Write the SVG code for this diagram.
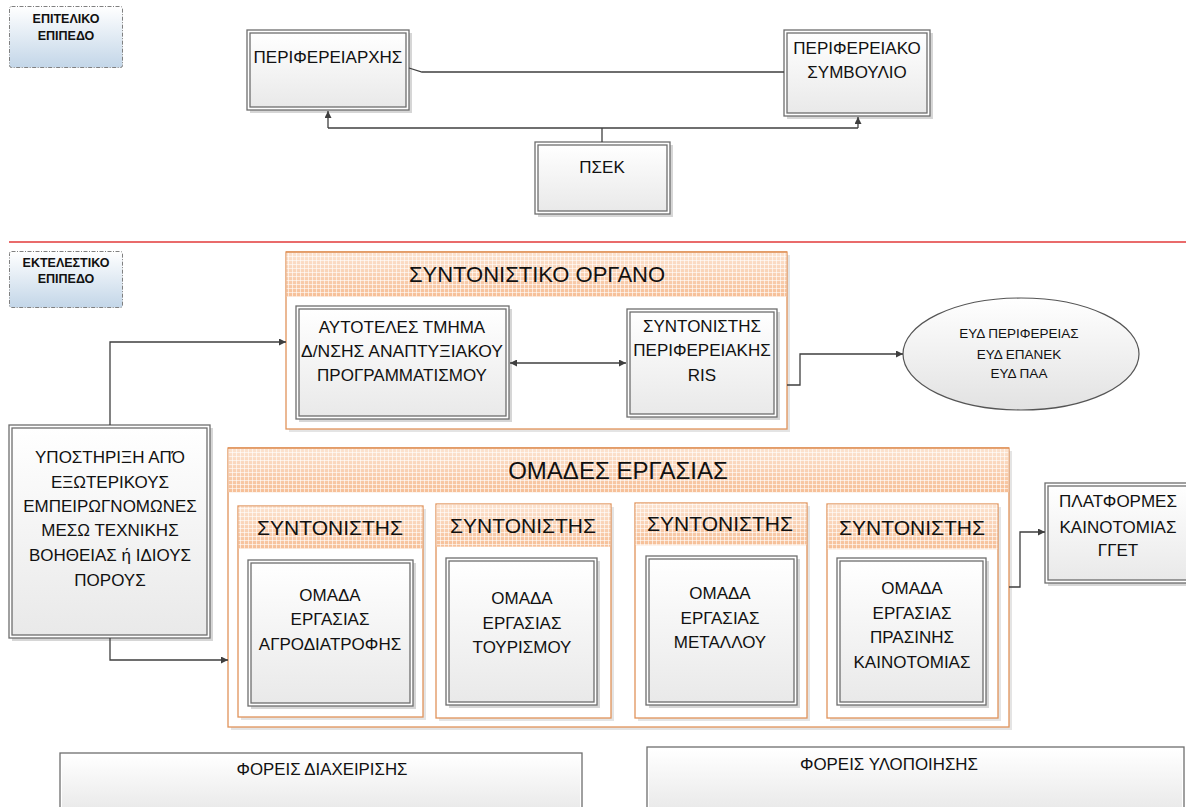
<svg xmlns="http://www.w3.org/2000/svg" width="1186" height="807" viewBox="0 0 1186 807">
<style>
text{font-family:"Liberation Sans",Arial,sans-serif;fill:#111;text-anchor:middle}
.t16{font-size:17px}
.t13{font-size:13.5px}
.hd{font-size:21px}
.lbl{font-size:12.5px;font-weight:bold}
.sh{fill:#d6d6d6}
.outer{fill:#fff;stroke:#6e6e6e;stroke-width:1.3}
.inner{fill:url(#boxg);stroke:#6e6e6e;stroke-width:1.3}
.cont{fill:#fff;stroke:#e0935a;stroke-width:1.3}
.head{fill:url(#headg)}
.grid{fill:url(#gridp)}
.conn{fill:none;stroke:#3f3f3f;stroke-width:1.3}
.lab{fill:url(#labg);stroke:#808080;stroke-width:1;stroke-dasharray:4 1.5 1 1.5}
</style>
<defs>
<linearGradient id="boxg" x1="0" y1="0" x2="0" y2="1"><stop offset="0" stop-color="#ffffff"/><stop offset="1" stop-color="#e9e9e9"/></linearGradient>
<linearGradient id="labg" x1="0" y1="0" x2="0" y2="1"><stop offset="0" stop-color="#ffffff"/><stop offset="1" stop-color="#c3d6e8"/></linearGradient>
<linearGradient id="headg" x1="0" y1="0" x2="0" y2="1"><stop offset="0" stop-color="#fce3d0"/><stop offset="1" stop-color="#f6bf97"/></linearGradient>
<linearGradient id="ellg" x1="0" y1="0" x2="0" y2="1"><stop offset="0" stop-color="#ffffff"/><stop offset="1" stop-color="#e2e2e2"/></linearGradient>
<pattern id="gridp" width="4" height="4" patternUnits="userSpaceOnUse"><path d="M0,0.5H4M0.5,0V4" stroke="#ffffff" stroke-opacity="0.6" stroke-width="1" fill="none"/></pattern>
<marker id="arr" viewBox="0 0 10 10" refX="10" refY="5" markerWidth="7" markerHeight="7" orient="auto-start-reverse" markerUnits="userSpaceOnUse"><path d="M0,0L10,5L0,10z" fill="#3f3f3f"/></marker>
</defs>

<line x1="9" y1="242" x2="1186" y2="242" stroke="#e23a3a" stroke-width="1.3"/>

<g id="label-epiteliko">
<rect class="lab" x="9.5" y="6.5" width="113" height="61" rx="2"/>
<text class="lbl" x="66" y="23">ΕΠΙΤΕΛΙΚΟ</text>
<text class="lbl" x="66" y="40">ΕΠΙΠΕΔΟ</text>
</g>
<g id="label-ektelestiko">
<rect class="lab" x="9.5" y="251.5" width="113" height="56" rx="2"/>
<text class="lbl" x="66" y="267">ΕΚΤΕΛΕΣΤΙΚΟ</text>
<text class="lbl" x="66" y="283">ΕΠΙΠΕΔΟ</text>
</g>

<g id="perifereiarxis">
<rect class="sh" x="250" y="33" width="162" height="80"/>
<rect class="outer" x="247" y="30" width="162" height="80"/>
<rect class="inner" x="250" y="33" width="156" height="74"/>
<text class="t16" x="328" y="63">ΠΕΡΙΦΕΡΕΙΑΡΧΗΣ</text>
</g>
<g id="perifereiako-symvoulio">
<rect class="sh" x="787" y="33" width="146" height="86"/>
<rect class="outer" x="784" y="30" width="146" height="86"/>
<rect class="inner" x="787" y="33" width="140" height="80"/>
<text class="t16" x="857" y="54">ΠΕΡΙΦΕΡΕΙΑΚΟ</text>
<text class="t16" x="857" y="78">ΣΥΜΒΟΥΛΙΟ</text>
</g>
<g id="psek">
<rect class="sh" x="538" y="145" width="135" height="72"/>
<rect class="outer" x="535" y="142" width="135" height="72"/>
<rect class="inner" x="538" y="145" width="129" height="66"/>
<text class="t16" x="602" y="173">ΠΣΕΚ</text>
</g>

<g id="syntonistiko-organo">
<rect x="289" y="255" width="501" height="177" fill="#e4e4e4"/>
<rect class="cont" x="286" y="252" width="501" height="177"/>
<rect class="head" x="286.7" y="252.7" width="499.6" height="44"/>
<rect class="grid" x="286.7" y="252.7" width="499.6" height="44"/>
<line x1="286" y1="252" x2="787" y2="252" stroke="#e0935a" stroke-width="1.3"/>
<text class="hd" x="537" y="282" style="font-size:22px">ΣΥΝΤΟΝΙΣΤΙΚΟ ΟΡΓΑΝΟ</text>
</g>
<g id="aftoteles-tmima">
<rect class="sh" x="299" y="309" width="213" height="113"/>
<rect class="outer" x="296" y="306" width="213" height="113"/>
<rect class="inner" x="299" y="309" width="207" height="107"/>
<text class="t16" x="402" y="333">ΑΥΤΟΤΕΛΕΣ ΤΜΗΜΑ</text>
<text class="t16" x="402" y="357" textLength="202" lengthAdjust="spacingAndGlyphs">Δ/ΝΣΗΣ ΑΝΑΠΤΥΞΙΑΚΟΥ</text>
<text class="t16" x="402" y="381">ΠΡΟΓΡΑΜΜΑΤΙΣΜΟΥ</text>
</g>
<g id="syntonistis-ris">
<rect class="sh" x="630" y="312" width="150" height="108"/>
<rect class="outer" x="627" y="309" width="150" height="108"/>
<rect class="inner" x="630" y="312" width="144" height="102"/>
<text class="t16" x="702" y="332">ΣΥΝΤΟΝΙΣΤΗΣ</text>
<text class="t16" x="702" y="356">ΠΕΡΙΦΕΡΕΙΑΚΗΣ</text>
<text class="t16" x="702" y="381">RIS</text>
</g>
<g id="eyd">
<ellipse cx="1021" cy="354" rx="118" ry="56" fill="url(#ellg)" stroke="#555" stroke-width="1.2"/>
<text class="t13" x="1019" y="338">ΕΥΔ ΠΕΡΙΦΕΡΕΙΑΣ</text>
<text class="t13" x="1019" y="359">ΕΥΔ ΕΠΑΝΕΚ</text>
<text class="t13" x="1019" y="378">ΕΥΔ ΠΑΑ</text>
</g>

<g id="ypostiriksi">
<rect class="sh" x="12" y="428" width="201" height="213"/>
<rect class="outer" x="9" y="425" width="201" height="213"/>
<rect class="inner" x="12" y="428" width="195" height="207"/>
<text class="t16" x="110" y="463">ΥΠΟΣΤΗΡΙΞΗ ΑΠΌ</text>
<text class="t16" x="110" y="488">ΕΞΩΤΕΡΙΚΟΥΣ</text>
<text class="t16" x="110" y="512">ΕΜΠΕΙΡΩΓΝΟΜΩΝΕΣ</text>
<text class="t16" x="110" y="536">ΜΕΣΩ ΤΕΧΝΙΚΗΣ</text>
<text class="t16" x="110" y="561">ΒΟΗΘΕΙΑΣ ή ΙΔΙΟΥΣ</text>
<text class="t16" x="110" y="586">ΠΟΡΟΥΣ</text>
</g>

<g id="omades-ergasias">
<rect x="231" y="451" width="781" height="279" fill="#e4e4e4"/>
<rect class="cont" x="228" y="448" width="781" height="279"/>
<rect class="head" x="228.7" y="448.7" width="779.6" height="43.5"/>
<rect class="grid" x="228.7" y="448.7" width="779.6" height="43.5"/>
<line x1="228" y1="448" x2="1009" y2="448" stroke="#e0935a" stroke-width="1.3"/>
<text class="hd" x="618" y="479" style="font-size:24px">ΟΜΑΔΕΣ ΕΡΓΑΣΙΑΣ</text>
</g>

<g id="syntonistis-1">
<rect x="241" y="509" width="185" height="211" fill="#e4e4e4"/>
<rect class="cont" x="238" y="506" width="185" height="211"/>
<rect class="head" x="238.7" y="506.7" width="183.6" height="42"/>
<rect class="grid" x="238.7" y="506.7" width="183.6" height="42"/>
<text class="hd" x="330" y="535">ΣΥΝΤΟΝΙΣΤΗΣ</text>
</g>
<g id="omada-agrodiatrofis">
<rect class="sh" x="251" y="563" width="165" height="146"/>
<rect class="outer" x="248" y="560" width="165" height="146"/>
<rect class="inner" x="251" y="563" width="159" height="140"/>
<text class="t16" x="330" y="601">ΟΜΑΔΑ</text>
<text class="t16" x="330" y="625">ΕΡΓΑΣΙΑΣ</text>
<text class="t16" x="330" y="650">ΑΓΡΟΔΙΑΤΡΟΦΗΣ</text>
</g>

<g id="syntonistis-2">
<rect x="439" y="507" width="175" height="214" fill="#e4e4e4"/>
<rect class="cont" x="436" y="504" width="175" height="214"/>
<rect class="head" x="436.7" y="504.7" width="173.6" height="42"/>
<rect class="grid" x="436.7" y="504.7" width="173.6" height="42"/>
<text class="hd" x="523" y="533">ΣΥΝΤΟΝΙΣΤΗΣ</text>
</g>
<g id="omada-tourismou">
<rect class="sh" x="449" y="561" width="151" height="147"/>
<rect class="outer" x="446" y="558" width="151" height="147"/>
<rect class="inner" x="449" y="561" width="145" height="141"/>
<text class="t16" x="522" y="604">ΟΜΑΔΑ</text>
<text class="t16" x="522" y="629">ΕΡΓΑΣΙΑΣ</text>
<text class="t16" x="522" y="653">ΤΟΥΡΙΣΜΟΥ</text>
</g>

<g id="syntonistis-3">
<rect x="638" y="506" width="172" height="215" fill="#e4e4e4"/>
<rect class="cont" x="635" y="503" width="172" height="215"/>
<rect class="head" x="635.7" y="503.7" width="170.6" height="41.5"/>
<rect class="grid" x="635.7" y="503.7" width="170.6" height="41.5"/>
<text class="hd" x="720" y="531">ΣΥΝΤΟΝΙΣΤΗΣ</text>
</g>
<g id="omada-metallou">
<rect class="sh" x="649" y="559" width="151" height="149"/>
<rect class="outer" x="646" y="556" width="151" height="149"/>
<rect class="inner" x="649" y="559" width="145" height="143"/>
<text class="t16" x="720" y="599">ΟΜΑΔΑ</text>
<text class="t16" x="720" y="624">ΕΡΓΑΣΙΑΣ</text>
<text class="t16" x="720" y="648">ΜΕΤΑΛΛΟΥ</text>
</g>

<g id="syntonistis-4">
<rect x="830" y="507" width="171" height="214" fill="#e4e4e4"/>
<rect class="cont" x="827" y="504" width="171" height="214"/>
<rect class="head" x="827.7" y="504.7" width="169.6" height="44.5"/>
<rect class="grid" x="827.7" y="504.7" width="169.6" height="44.5"/>
<text class="hd" x="912" y="535">ΣΥΝΤΟΝΙΣΤΗΣ</text>
</g>
<g id="omada-prasinis-kainotomias">
<rect class="sh" x="840" y="561" width="149" height="147"/>
<rect class="outer" x="837" y="558" width="149" height="147"/>
<rect class="inner" x="840" y="561" width="143" height="141"/>
<text class="t16" x="912" y="594">ΟΜΑΔΑ</text>
<text class="t16" x="912" y="619">ΕΡΓΑΣΙΑΣ</text>
<text class="t16" x="912" y="643">ΠΡΑΣΙΝΗΣ</text>
<text class="t16" x="912" y="668">ΚΑΙΝΟΤΟΜΙΑΣ</text>
</g>

<g id="platformes">
<rect class="sh" x="1048" y="486" width="150" height="100"/>
<rect class="outer" x="1045" y="483" width="150" height="100"/>
<rect class="inner" x="1048" y="486" width="144" height="94"/>
<text class="t16" x="1118" y="507">ΠΛΑΤΦΟΡΜΕΣ</text>
<text class="t16" x="1118" y="533">ΚΑΙΝΟΤΟΜΙΑΣ</text>
<text class="t16" x="1118" y="556">ΓΓΕΤ</text>
</g>

<g id="foreis-diaxeirisis">
<rect class="outer" x="60" y="753" width="522" height="60"/>
<rect class="inner" x="62" y="755" width="518" height="56" style="stroke:none"/>
<text class="t16" x="322" y="775" textLength="171" lengthAdjust="spacingAndGlyphs">ΦΟΡΕΙΣ ΔΙΑΧΕΙΡΙΣΗΣ</text>
</g>
<g id="foreis-ylopoiisis">
<rect class="outer" x="647" y="747" width="537" height="66"/>
<rect class="inner" x="649" y="749" width="533" height="62" style="stroke:none"/>
<text class="t16" x="889" y="770" textLength="178" lengthAdjust="spacingAndGlyphs">ΦΟΡΕΙΣ ΥΛΟΠΟΙΗΣΗΣ</text>
</g>

<g id="connectors">
<path class="conn" d="M409,68 L422,72 L784,72"/>
<path class="conn" d="M602,142 V128"/>
<path class="conn" d="M328,128 H858"/>
<path class="conn" d="M328,128 V111" marker-end="url(#arr)"/>
<path class="conn" d="M858,128 V117" marker-end="url(#arr)"/>
<path class="conn" d="M510,363 H626" marker-start="url(#arr)" marker-end="url(#arr)"/>
<path class="conn" d="M787,385 H800 V354 H903" marker-end="url(#arr)"/>
<path class="conn" d="M110,425 V342 H286" marker-end="url(#arr)"/>
<path class="conn" d="M110,638 V660 H228" marker-end="url(#arr)"/>
<path class="conn" d="M1009,587 H1020 V532 H1045" marker-end="url(#arr)"/>
</g>
</svg>
